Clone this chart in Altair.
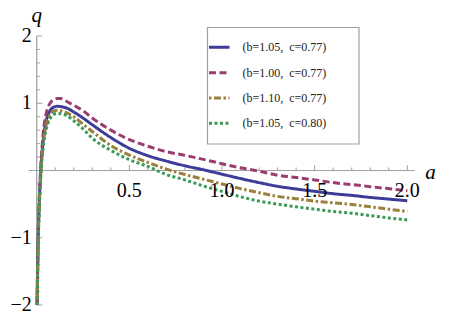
import altair as alt
import pandas as pd

# ---- data ----
a_vals = [0.002, 0.008, 0.015, 0.022, 0.035, 0.05, 0.07, 0.09, 0.11, 0.13, 0.16, 0.2, 0.25, 0.3,
          0.4, 0.5, 0.6, 0.7, 0.8, 0.9, 1.0, 1.1, 1.2, 1.3, 1.4, 1.5, 1.6, 1.7, 1.8, 1.9, 2.0]
q_b105_c077 = [-2.0, -1.0, -0.4, 0.0, 0.45, 0.72, 0.88, 0.94, 0.955, 0.95, 0.93, 0.87, 0.78, 0.68,
               0.49, 0.33, 0.22, 0.14, 0.07, 0.01, -0.055, -0.12, -0.18, -0.235, -0.275, -0.31,
               -0.345, -0.37, -0.40, -0.425, -0.45]
q_b100_c077 = [-2.0, -0.95, -0.35, 0.05, 0.55, 0.83, 0.99, 1.05, 1.07, 1.07, 1.03, 0.97, 0.89, 0.78,
               0.60, 0.46, 0.36, 0.28, 0.225, 0.165, 0.10, 0.04, -0.01, -0.07, -0.105, -0.14,
               -0.18, -0.21, -0.24, -0.27, -0.30]
q_b110_c077 = [-2.0, -1.05, -0.45, -0.05, 0.40, 0.66, 0.82, 0.88, 0.895, 0.89, 0.86, 0.80, 0.69, 0.58,
               0.37, 0.23, 0.12, 0.02, -0.06, -0.13, -0.20, -0.27, -0.33, -0.385, -0.42, -0.455,
               -0.48, -0.505, -0.54, -0.575, -0.61]
q_b105_c080 = [-2.0, -1.1, -0.5, -0.1, 0.35, 0.60, 0.76, 0.83, 0.85, 0.845, 0.82, 0.74, 0.62, 0.48,
               0.30, 0.16, 0.06, -0.06, -0.14, -0.23, -0.31, -0.39, -0.455, -0.50, -0.54, -0.575,
               -0.61, -0.635, -0.67, -0.705, -0.735]

series_names = ["(b=1.05,\u00a0 c=0.77)", "(b=1.00,\u00a0 c=0.77)",
                "(b=1.10,\u00a0 c=0.77)", "(b=1.05,\u00a0 c=0.80)"]
series_values = [q_b105_c077, q_b100_c077, q_b110_c077, q_b105_c080]
series_colors = ["#3d3d99", "#993d71", "#99803d", "#3d9956"]
series_dashes = [[1, 0], [7, 3.5], [2.5, 2.5, 7, 2.5], [3, 2.5]]

x_major = [0.5, 1.0, 1.5, 2.0]
x_major_labels = ["0.5", "1.0", "1.5", "2.0"]
x_minor = [0.1, 0.2, 0.3, 0.4, 0.6, 0.7, 0.8, 0.9, 1.1, 1.2, 1.3, 1.4, 1.6, 1.7, 1.8, 1.9]
y_major = [-2, -1, 1, 2]
y_major_labels = ["\u22122", "\u22121", "1", "2"]
y_minor = [-1.8, -1.6, -1.4, -1.2, -0.8, -0.6, -0.4, -0.2, 0.2, 0.4, 0.6, 0.8,
           1.2, 1.4, 1.6, 1.8]

rows = []
for name, vals in zip(series_names, series_values):
    for a, q in zip(a_vals, vals):
        rows.append({"a": a, "q": q, "series": name})
df = pd.DataFrame(rows)
legend_df = pd.DataFrame({"series": series_names, "row": list(range(len(series_names)))})

xs = alt.Scale(domain=[-0.1549, 2.2574], nice=False, zero=False)
ys = alt.Scale(domain=[-2.2082, 2.4164], nice=False, zero=False)
cs = alt.Scale(domain=series_names, range=series_colors)
ds = alt.Scale(domain=series_names, range=series_dashes)
rs = alt.Scale(domain=[0, 3], range=[39.3, 115.3])
AX = "#a0a0a0"
FONT = "Liberation Serif, Times New Roman, serif"

lines = alt.Chart(df).mark_line(strokeWidth=3, strokeCap="butt", clip=True,
                                interpolate="monotone").encode(
    x=alt.X("a:Q", scale=xs, axis=None),
    y=alt.Y("q:Q", scale=ys, axis=None),
    color=alt.Color("series:N", scale=cs, legend=None),
    strokeDash=alt.StrokeDash("series:N", scale=ds, legend=None),
    detail="series:N",
)

xaxis = alt.Chart(pd.DataFrame({"x1": [-0.043], "x2": [2.04], "y": [0]})).mark_rule(
    color=AX, strokeWidth=1.2).encode(x=alt.X("x1:Q", scale=xs, axis=None), x2="x2:Q",
                                      y=alt.Y("y:Q", scale=ys, axis=None))
yaxis = alt.Chart(pd.DataFrame({"x": [0], "y1": [-2.0], "y2": [2.0]})).mark_rule(
    color=AX, strokeWidth=1.2).encode(x=alt.X("x:Q", scale=xs, axis=None),
                                      y=alt.Y("y1:Q", scale=ys, axis=None), y2="y2:Q")

xt_major = alt.Chart(pd.DataFrame({"x": x_major, "y1": [0.0] * 4, "y2": [0.08] * 4})).mark_rule(
    color=AX, strokeWidth=1).encode(x=alt.X("x:Q", scale=xs, axis=None),
                                    y=alt.Y("y1:Q", scale=ys, axis=None), y2="y2:Q")
xt_minor = alt.Chart(pd.DataFrame({"x": x_minor, "y1": [0.0] * 16, "y2": [0.045] * 16})).mark_rule(
    color=AX, strokeWidth=1).encode(x=alt.X("x:Q", scale=xs, axis=None),
                                    y=alt.Y("y1:Q", scale=ys, axis=None), y2="y2:Q")
yt_major = alt.Chart(pd.DataFrame({"y": y_major, "x1": [0.0] * 4, "x2": [0.03] * 4})).mark_rule(
    color=AX, strokeWidth=1).encode(y=alt.Y("y:Q", scale=ys, axis=None),
                                    x=alt.X("x1:Q", scale=xs, axis=None), x2="x2:Q")
yt_minor = alt.Chart(pd.DataFrame({"y": y_minor, "x1": [0.0] * 16, "x2": [0.017] * 16})).mark_rule(
    color=AX, strokeWidth=1).encode(y=alt.Y("y:Q", scale=ys, axis=None),
                                    x=alt.X("x1:Q", scale=xs, axis=None), x2="x2:Q")

xlab = alt.Chart(pd.DataFrame({"x": x_major, "t": x_major_labels, "y": [0.0] * 4})).mark_text(
    font=FONT, fontSize=20, color="black", align="center", baseline="alphabetic", dy=26).encode(
    x=alt.X("x:Q", scale=xs, axis=None), y=alt.Y("y:Q", scale=ys, axis=None), text="t:N")
ylab = alt.Chart(pd.DataFrame({"y": y_major, "t": y_major_labels, "x": [0.0] * 4})).mark_text(
    font=FONT, fontSize=20, color="black", align="right", baseline="middle", dx=-5).encode(
    x=alt.X("x:Q", scale=xs, axis=None), y=alt.Y("y:Q", scale=ys, axis=None), text="t:N")

titles = alt.Chart(pd.DataFrame({"x": [0.0, 2.125], "y": [2.21, -0.126], "t": ["q", "a"]})).mark_text(
    font=FONT, fontSize=21, fontStyle="italic", color="black", align="center", baseline="alphabetic").encode(
    x=alt.X("x:Q", scale=xs, axis=None), y=alt.Y("y:Q", scale=ys, axis=None), text="t:N")

# legend (drawn as marks)
leg_box = alt.Chart(pd.DataFrame({"k": [0]})).mark_rect(
    fill="white", stroke=AX, strokeWidth=1.2).encode(
    x=alt.value(199.5), x2=alt.value(351), y=alt.value(19.5), y2=alt.value(136))
leg_sym = alt.Chart(legend_df).mark_rule(strokeWidth=3, strokeCap="butt").encode(
    x=alt.value(201), x2=alt.value(221.5),
    y=alt.Y("row:Q", scale=rs, axis=None),
    color=alt.Color("series:N", scale=cs, legend=None),
    strokeDash=alt.StrokeDash("series:N", scale=ds, legend=None),
)
leg_txt = alt.Chart(legend_df).mark_text(
    font=FONT, fontSize=12, color="#222", align="left", baseline="middle").encode(
    x=alt.value(234.5),
    y=alt.Y("row:Q", scale=rs, axis=None),
    text="series:N",
)

chart = alt.layer(xaxis, yaxis, xt_major, xt_minor, yt_major, yt_minor, lines,
                  xlab, ylab, titles, leg_box, leg_sym, leg_txt).resolve_scale(
    y="independent").properties(
    width=447, height=311, padding=0, autosize=alt.AutoSizeParams(type="none"),
    background="white",
).configure_view(stroke=None)

chart.save("out.html", embed_options={"renderer": "svg", "actions": False})
